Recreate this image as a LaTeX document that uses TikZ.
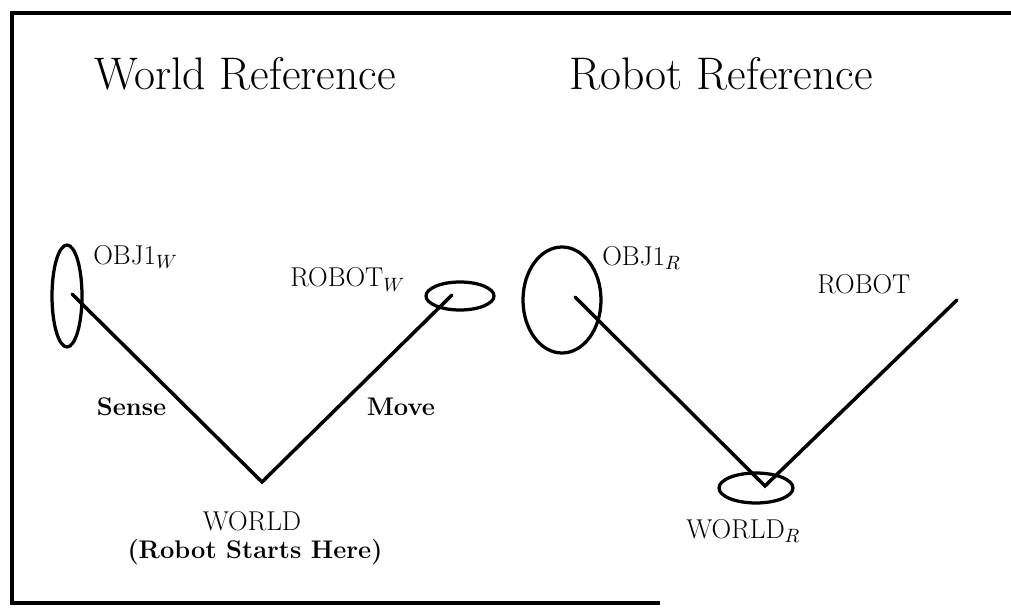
\documentclass[tikz,border=0pt]{standalone}
\usetikzlibrary{shapes.geometric,positioning}

\tikzset{
    frame/.style = {line width=0.8mm},
    arm/.style = {line width=0.7mm, line cap=round},
    blob/.style = {shape=ellipse, draw, line width=0.65mm, inner sep=0pt},
    title/.style = {font=\fontsize{26}{30}\selectfont, inner sep=0pt},
    tag/.style = {font=\fontsize{15.5}{18}\selectfont, inner sep=0pt},
    boldtag/.style = {font=\bfseries\fontsize{14.5}{17}\selectfont, inner sep=0pt}
  }

\begin{document}
\begin{tikzpicture}[x=0.2mm,y=-0.2mm]
    \useasboundingbox (0,0) rectangle (1011,610);
    \draw[frame] (1011,13) -- (12,13) -- (12,603) -- (660,603);

    \node[title, anchor=base] (wref) at (245,90) {World Reference};
    \node[title, anchor=base] (rref) at (721,90) {Robot Reference};

    % world frame
    \node[blob, minimum width=6mm, minimum height=20.4mm] (objw) at (67,296) {};
    \node[blob, minimum width=13.6mm, minimum height=5.6mm] (robw) at (460,296) {};
    \coordinate (objwpt) at (72,294);
    \coordinate (robwpt) at (452,295);
    \coordinate (worldw) at (262,482);
    \draw[arm] (objwpt) -- node[boldtag, pos=0.6, left=3.6mm] {Sense} (worldw)
               -- node[boldtag, pos=0.4, right=5.4mm] {Move} (robwpt);

    \node[tag, anchor=base west] (objwlbl) at (93,264) {OBJ1$_W$};
    \node[tag, anchor=base west] (robwlbl) at (290,287) {ROBOT$_W$};
    \node[tag, anchor=base] (worldwlbl) at (252,530) {WORLD};
    \node[boldtag, anchor=base] (startlbl) at (255,558) {(Robot Starts Here)};

    % robot frame
    \node[blob, minimum width=15.6mm, minimum height=21.2mm] (objr) at (562,300) {};
    \node[blob, minimum width=14.8mm, minimum height=6mm] (worldr) at (756,488) {};
    \coordinate (objrpt) at (575,297);
    \coordinate (worldrpt) at (765,486);
    \coordinate (robr) at (957,300);
    \draw[arm] (objrpt) -- (worldrpt) -- (robr);

    \node[tag, anchor=base west] (objrlbl) at (602,265) {OBJ1$_R$};
    \node[tag, anchor=base west] (robrlbl) at (817,293) {ROBOT};
    \node[tag, anchor=base west] (worldrlbl) at (686,538) {WORLD$_R$};
\end{tikzpicture}
\end{document}
